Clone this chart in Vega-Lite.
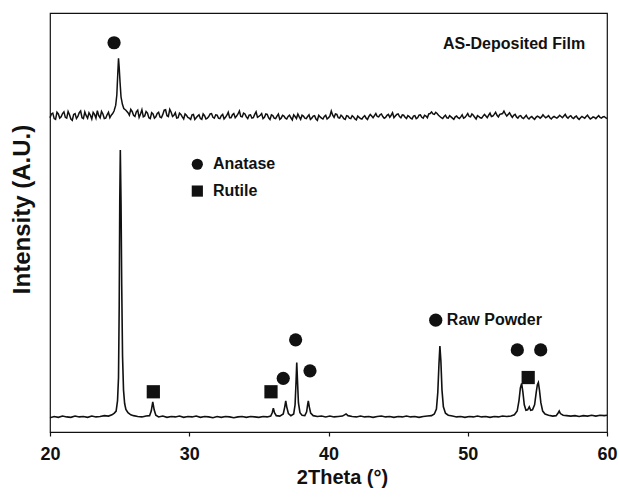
{
  "$schema": "https://vega.github.io/schema/vega-lite/v6.json",
  "width": 557,
  "height": 419,
  "autosize": {"type": "none"},
  "padding": {"left": 50, "top": 13, "right": 12, "bottom": 67},
  "background": "white",
  "config": {
    "font": "Liberation Sans",
    "view": {"stroke": "#111", "strokeWidth": 1.2},
    "axis": {"grid": false}
  },
  "datasets": {
    "film": [
      {"t":20.0,"i":75.0},{"t":20.2,"i":76.1},{"t":20.4,"i":74.6},{"t":20.6,"i":75.9},{"t":20.8,"i":75.2},
      {"t":21.0,"i":76.4},{"t":21.2,"i":74.9},{"t":21.4,"i":75.7},{"t":21.6,"i":74.4},{"t":21.8,"i":76.0},
      {"t":22.0,"i":75.3},{"t":22.2,"i":76.6},{"t":22.4,"i":74.8},{"t":22.6,"i":75.5},{"t":22.8,"i":76.2},
      {"t":23.0,"i":74.7},{"t":23.2,"i":75.8},{"t":23.4,"i":76.7},{"t":23.6,"i":75.0},{"t":23.8,"i":75.9},
      {"t":24.0,"i":74.9},{"t":24.2,"i":76.3},{"t":24.4,"i":75.6},{"t":24.6,"i":76.6},{"t":24.72,"i":78.0},
      {"t":24.8,"i":80.5},{"t":24.86,"i":85.0},{"t":24.92,"i":89.2},{"t":24.97,"i":87.0},{"t":25.03,"i":83.5},
      {"t":25.1,"i":80.0},{"t":25.2,"i":78.2},{"t":25.3,"i":77.2},{"t":25.45,"i":76.8},{"t":25.6,"i":76.2},
      {"t":25.8,"i":77.0},{"t":26.0,"i":75.6},{"t":26.2,"i":76.4},{"t":26.4,"i":75.1},{"t":26.6,"i":76.9},
      {"t":26.8,"i":75.4},{"t":27.0,"i":76.1},{"t":27.2,"i":74.8},{"t":27.4,"i":75.9},{"t":27.6,"i":75.2},
      {"t":27.8,"i":76.3},{"t":28.0,"i":75.0},{"t":28.2,"i":76.8},{"t":28.4,"i":75.5},{"t":28.6,"i":77.0},
      {"t":28.8,"i":75.3},{"t":29.0,"i":76.2},{"t":29.2,"i":75.0},{"t":29.4,"i":75.8},{"t":29.6,"i":74.7},
      {"t":29.8,"i":75.6},{"t":30.0,"i":74.9},{"t":30.2,"i":75.7},{"t":30.4,"i":74.6},{"t":30.6,"i":75.4},
      {"t":30.8,"i":74.8},{"t":31.0,"i":75.9},{"t":31.2,"i":74.7},{"t":31.4,"i":75.3},{"t":31.6,"i":76.0},
      {"t":31.8,"i":74.9},{"t":32.0,"i":75.6},{"t":32.2,"i":74.8},{"t":32.4,"i":75.8},{"t":32.6,"i":75.1},
      {"t":32.8,"i":76.3},{"t":33.0,"i":75.0},{"t":33.2,"i":76.0},{"t":33.4,"i":75.4},{"t":33.6,"i":76.6},
      {"t":33.8,"i":75.2},{"t":34.0,"i":75.9},{"t":34.2,"i":74.8},{"t":34.4,"i":75.7},{"t":34.6,"i":75.0},
      {"t":34.8,"i":76.4},{"t":35.0,"i":75.3},{"t":35.2,"i":76.0},{"t":35.4,"i":75.1},{"t":35.6,"i":75.8},
      {"t":35.8,"i":74.6},{"t":36.0,"i":75.5},{"t":36.2,"i":74.8},{"t":36.4,"i":75.9},{"t":36.6,"i":74.9},
      {"t":36.8,"i":75.4},{"t":37.0,"i":74.7},{"t":37.2,"i":75.6},{"t":37.4,"i":74.5},{"t":37.6,"i":75.3},
      {"t":37.8,"i":75.9},{"t":38.0,"i":74.6},{"t":38.2,"i":75.4},{"t":38.4,"i":74.8},{"t":38.6,"i":75.7},
      {"t":38.8,"i":74.9},{"t":39.0,"i":75.5},{"t":39.2,"i":74.4},{"t":39.4,"i":75.2},{"t":39.6,"i":74.7},
      {"t":39.8,"i":75.6},{"t":40.0,"i":75.0},{"t":40.2,"i":76.6},{"t":40.4,"i":75.1},{"t":40.6,"i":75.8},
      {"t":40.8,"i":74.9},{"t":41.0,"i":75.3},{"t":41.2,"i":74.6},{"t":41.4,"i":75.4},{"t":41.6,"i":74.8},
      {"t":41.8,"i":75.2},{"t":42.0,"i":74.5},{"t":42.2,"i":75.1},{"t":42.4,"i":74.7},{"t":42.6,"i":75.5},
      {"t":42.8,"i":74.6},{"t":43.0,"i":75.8},{"t":43.2,"i":75.0},{"t":43.4,"i":76.0},{"t":43.6,"i":75.2},
      {"t":43.8,"i":75.9},{"t":44.0,"i":74.9},{"t":44.2,"i":75.6},{"t":44.4,"i":75.1},{"t":44.6,"i":76.2},
      {"t":44.8,"i":75.4},{"t":45.0,"i":75.9},{"t":45.2,"i":75.0},{"t":45.4,"i":75.6},{"t":45.6,"i":74.8},
      {"t":45.8,"i":75.3},{"t":46.0,"i":74.7},{"t":46.2,"i":75.5},{"t":46.4,"i":75.0},{"t":46.6,"i":75.7},
      {"t":46.8,"i":74.9},{"t":47.0,"i":75.4},{"t":47.2,"i":75.9},{"t":47.4,"i":76.4},{"t":47.6,"i":75.8},
      {"t":47.8,"i":76.0},{"t":48.0,"i":75.3},{"t":48.2,"i":74.8},{"t":48.4,"i":75.6},{"t":48.6,"i":74.9},
      {"t":48.8,"i":75.2},{"t":49.0,"i":74.6},{"t":49.2,"i":75.4},{"t":49.4,"i":74.8},{"t":49.6,"i":75.7},
      {"t":49.8,"i":75.1},{"t":50.0,"i":76.0},{"t":50.2,"i":75.2},{"t":50.4,"i":75.6},{"t":50.6,"i":74.7},
      {"t":50.8,"i":75.3},{"t":51.0,"i":74.9},{"t":51.2,"i":75.8},{"t":51.4,"i":75.0},{"t":51.6,"i":76.1},
      {"t":51.8,"i":75.4},{"t":52.0,"i":76.3},{"t":52.2,"i":75.2},{"t":52.4,"i":75.9},{"t":52.6,"i":76.6},
      {"t":52.8,"i":75.4},{"t":53.0,"i":76.2},{"t":53.2,"i":75.1},{"t":53.4,"i":75.8},{"t":53.6,"i":74.9},
      {"t":53.8,"i":75.5},{"t":54.0,"i":74.8},{"t":54.2,"i":75.6},{"t":54.4,"i":74.7},{"t":54.6,"i":75.3},
      {"t":54.8,"i":74.6},{"t":55.0,"i":75.4},{"t":55.2,"i":74.9},{"t":55.4,"i":75.7},{"t":55.6,"i":75.0},
      {"t":55.8,"i":75.5},{"t":56.0,"i":74.7},{"t":56.2,"i":75.3},{"t":56.4,"i":74.9},{"t":56.6,"i":75.6},
      {"t":56.8,"i":75.0},{"t":57.0,"i":75.8},{"t":57.2,"i":74.9},{"t":57.4,"i":75.5},{"t":57.6,"i":74.8},
      {"t":57.8,"i":75.4},{"t":58.0,"i":74.6},{"t":58.2,"i":75.3},{"t":58.4,"i":74.9},{"t":58.6,"i":75.6},
      {"t":58.8,"i":74.7},{"t":59.0,"i":75.2},{"t":59.2,"i":74.8},{"t":59.4,"i":75.5},{"t":59.6,"i":74.9},
      {"t":59.8,"i":75.3},{"t":60.0,"i":74.8},
      {"t":20.1,"i":75.9},{"t":20.3,"i":74.8},{"t":20.5,"i":76.3},{"t":20.7,"i":74.9},{"t":20.9,"i":76.0},
      {"t":21.1,"i":75.1},{"t":21.3,"i":76.5},{"t":21.5,"i":74.7},{"t":21.7,"i":75.8},{"t":21.9,"i":74.8},
      {"t":22.1,"i":76.2},{"t":22.3,"i":75.0},{"t":22.5,"i":76.4},{"t":22.7,"i":74.9},{"t":22.9,"i":75.6},
      {"t":23.1,"i":76.3},{"t":23.3,"i":74.9},{"t":23.5,"i":75.5},{"t":23.7,"i":76.5},{"t":23.9,"i":74.8},
      {"t":24.1,"i":75.7},{"t":24.3,"i":75.0},{"t":24.5,"i":76.0},
      {"t":25.7,"i":75.6},{"t":25.9,"i":76.5},{"t":26.1,"i":75.3},{"t":26.3,"i":76.8},{"t":26.5,"i":75.9},
      {"t":26.7,"i":75.2},{"t":26.9,"i":76.5},{"t":27.1,"i":75.0},{"t":27.3,"i":76.2},{"t":27.5,"i":74.9},
      {"t":27.7,"i":76.0},{"t":27.9,"i":75.2},{"t":28.1,"i":75.8},{"t":28.3,"i":76.9},{"t":28.5,"i":75.3},
      {"t":28.7,"i":76.3},{"t":28.9,"i":75.6},{"t":29.1,"i":74.9},{"t":29.3,"i":76.1},{"t":29.5,"i":75.2},
      {"t":29.7,"i":75.9},{"t":29.9,"i":75.1},{"t":30.1,"i":74.6},{"t":30.3,"i":75.8},{"t":30.5,"i":75.0},
      {"t":30.7,"i":75.7},{"t":30.9,"i":74.6},{"t":31.1,"i":75.5},{"t":31.3,"i":74.9},{"t":31.5,"i":75.9},
      {"t":31.7,"i":75.1},{"t":31.9,"i":75.7},{"t":32.1,"i":74.9},{"t":32.3,"i":75.5},{"t":32.5,"i":74.7},
      {"t":32.7,"i":75.6},{"t":32.9,"i":75.0},{"t":33.1,"i":75.7},{"t":33.3,"i":75.0},{"t":33.5,"i":75.9},
      {"t":33.7,"i":75.3},{"t":33.9,"i":76.1},{"t":34.1,"i":75.2},{"t":34.3,"i":75.6},{"t":34.5,"i":74.9},
      {"t":34.7,"i":75.8},{"t":34.9,"i":75.1},{"t":35.1,"i":75.6},{"t":35.3,"i":74.8},{"t":35.5,"i":75.9},
      {"t":35.7,"i":75.0},{"t":35.9,"i":75.7},{"t":36.1,"i":74.9},{"t":36.3,"i":75.4},{"t":36.5,"i":74.6},
      {"t":36.7,"i":75.6},{"t":36.9,"i":74.9},{"t":37.1,"i":75.3},{"t":37.3,"i":75.0},{"t":37.5,"i":75.7},
      {"t":37.7,"i":74.8},{"t":37.9,"i":75.2},{"t":38.1,"i":75.6},{"t":38.3,"i":74.9},{"t":38.5,"i":75.3},
      {"t":38.7,"i":74.6},{"t":38.9,"i":75.4},{"t":39.1,"i":74.7},{"t":39.3,"i":75.6},{"t":39.5,"i":74.9},
      {"t":39.7,"i":75.3},{"t":39.9,"i":74.7},{"t":40.1,"i":75.4},{"t":40.3,"i":75.6},{"t":40.5,"i":75.9},
      {"t":40.7,"i":75.0},{"t":40.9,"i":75.6},{"t":41.1,"i":74.8},{"t":41.3,"i":75.5},{"t":41.5,"i":74.9},
      {"t":41.7,"i":75.5},{"t":41.9,"i":74.7},{"t":42.1,"i":75.4},{"t":42.3,"i":74.8},{"t":42.5,"i":75.2},
      {"t":42.7,"i":74.9},{"t":42.9,"i":75.3},{"t":43.1,"i":75.4},{"t":43.3,"i":75.5},{"t":43.5,"i":75.3},
      {"t":43.7,"i":75.7},{"t":43.9,"i":75.3},{"t":44.1,"i":75.1},{"t":44.3,"i":75.8},{"t":44.5,"i":75.6},
      {"t":44.7,"i":75.0},{"t":44.9,"i":75.8},{"t":45.1,"i":75.3},{"t":45.3,"i":75.7},{"t":45.5,"i":75.1},
      {"t":45.7,"i":75.5},{"t":45.9,"i":74.9},{"t":46.1,"i":75.4},{"t":46.3,"i":74.8},{"t":46.5,"i":75.6},
      {"t":46.7,"i":75.1},{"t":46.9,"i":75.6},{"t":47.1,"i":75.0},{"t":47.3,"i":76.0},{"t":47.5,"i":75.9},
      {"t":47.7,"i":76.3},{"t":47.9,"i":75.6},{"t":48.1,"i":75.0},{"t":48.3,"i":75.3},{"t":48.5,"i":75.0},
      {"t":48.7,"i":75.5},{"t":48.9,"i":74.9},{"t":49.1,"i":75.2},{"t":49.3,"i":75.0},{"t":49.5,"i":75.2},
      {"t":49.7,"i":74.9},{"t":49.9,"i":75.5},{"t":50.1,"i":75.3},{"t":50.3,"i":75.9},{"t":50.5,"i":75.1},
      {"t":50.7,"i":75.5},{"t":50.9,"i":75.0},{"t":51.1,"i":75.4},{"t":51.3,"i":75.4},{"t":51.5,"i":75.6},
      {"t":51.7,"i":75.3},{"t":51.9,"i":75.8},{"t":52.1,"i":75.6},{"t":52.3,"i":75.8},{"t":52.5,"i":76.0},
      {"t":52.7,"i":75.9},{"t":52.9,"i":75.8},{"t":53.1,"i":75.6},{"t":53.3,"i":75.6},{"t":53.5,"i":75.2},
      {"t":53.7,"i":75.4},{"t":53.9,"i":75.0},{"t":54.1,"i":75.2},{"t":54.3,"i":75.0},{"t":54.5,"i":75.1},
      {"t":54.7,"i":74.9},{"t":54.9,"i":75.1},{"t":55.1,"i":75.2},{"t":55.3,"i":75.2},{"t":55.5,"i":75.3},
      {"t":55.7,"i":75.2},{"t":55.9,"i":75.0},{"t":56.1,"i":75.1},{"t":56.3,"i":75.1},{"t":56.5,"i":75.2},
      {"t":56.7,"i":75.3},{"t":56.9,"i":75.4},{"t":57.1,"i":75.2},{"t":57.3,"i":75.3},{"t":57.5,"i":75.0},
      {"t":57.7,"i":75.2},{"t":57.9,"i":74.9},{"t":58.1,"i":75.0},{"t":58.3,"i":75.1},{"t":58.5,"i":75.3},
      {"t":58.7,"i":75.1},{"t":58.9,"i":74.9},{"t":59.1,"i":75.1},{"t":59.3,"i":75.2},{"t":59.5,"i":75.1},
      {"t":59.7,"i":75.2},{"t":59.9,"i":75.0}
    ],
    "powder": [
      {"t":20.0,"i":3.4},{"t":20.3,"i":3.7},{"t":20.6,"i":3.5},{"t":20.9,"i":3.8},{"t":21.2,"i":3.6},
      {"t":21.5,"i":3.5},{"t":21.8,"i":3.8},{"t":22.1,"i":3.6},{"t":22.4,"i":3.7},{"t":22.7,"i":3.5},
      {"t":23.0,"i":3.8},{"t":23.3,"i":3.6},{"t":23.6,"i":3.7},{"t":23.9,"i":3.9},{"t":24.2,"i":3.8},
      {"t":24.45,"i":4.1},{"t":24.62,"i":4.5},{"t":24.75,"i":5.0},{"t":24.85,"i":7.5},{"t":24.92,"i":13},
      {"t":24.97,"i":30},{"t":25.01,"i":55},{"t":25.05,"i":67.3},{"t":25.1,"i":55},{"t":25.15,"i":35},
      {"t":25.21,"i":18},{"t":25.28,"i":10},{"t":25.36,"i":6.8},{"t":25.45,"i":5.4},{"t":25.6,"i":4.6},
      {"t":25.8,"i":4.1},{"t":26.0,"i":3.9},
      {"t":26.3,"i":3.7},{"t":26.6,"i":3.6},{"t":26.9,"i":3.8},{"t":27.15,"i":3.9},{"t":27.27,"i":5.0},
      {"t":27.38,"i":7.2},{"t":27.48,"i":5.3},{"t":27.6,"i":4.0},{"t":27.8,"i":3.6},{"t":28.1,"i":3.8},
      {"t":28.4,"i":3.5},{"t":28.7,"i":3.7},{"t":29.0,"i":3.6},{"t":29.3,"i":3.8},{"t":29.6,"i":3.5},
      {"t":29.9,"i":3.7},{"t":30.2,"i":3.6},{"t":30.5,"i":3.8},{"t":30.8,"i":3.5},{"t":31.1,"i":3.7},
      {"t":31.4,"i":3.6},{"t":31.7,"i":3.4},{"t":32.0,"i":3.7},{"t":32.3,"i":3.5},{"t":32.6,"i":3.7},
      {"t":32.9,"i":3.6},{"t":33.2,"i":3.4},{"t":33.5,"i":3.6},{"t":33.8,"i":3.7},{"t":34.1,"i":3.5},
      {"t":34.4,"i":3.7},{"t":34.7,"i":3.6},{"t":35.0,"i":3.5},{"t":35.3,"i":3.7},{"t":35.6,"i":3.6},
      {"t":35.85,"i":3.8},{"t":35.96,"i":4.6},{"t":36.04,"i":5.7},{"t":36.12,"i":4.6},{"t":36.25,"i":3.9},
      {"t":36.5,"i":3.8},{"t":36.75,"i":4.3},{"t":36.86,"i":6.0},{"t":36.93,"i":7.4},{"t":37.0,"i":6.0},
      {"t":37.12,"i":4.4},{"t":37.3,"i":3.9},{"t":37.5,"i":4.3},{"t":37.6,"i":6.5},{"t":37.67,"i":12},
      {"t":37.72,"i":16.6},{"t":37.77,"i":12.5},{"t":37.84,"i":7.0},{"t":37.95,"i":4.6},{"t":38.1,"i":4.0},
      {"t":38.3,"i":3.9},{"t":38.43,"i":4.8},{"t":38.5,"i":6.5},{"t":38.55,"i":7.4},{"t":38.62,"i":6.0},
      {"t":38.72,"i":4.5},{"t":38.9,"i":3.9},{"t":39.2,"i":3.7},{"t":39.5,"i":3.8},{"t":39.8,"i":3.6},
      {"t":40.1,"i":3.8},{"t":40.4,"i":3.6},{"t":40.7,"i":3.7},{"t":41.0,"i":3.8},{"t":41.15,"i":4.1},
      {"t":41.26,"i":4.3},{"t":41.4,"i":3.9},{"t":41.7,"i":3.7},{"t":42.0,"i":3.6},{"t":42.3,"i":3.8},
      {"t":42.6,"i":3.6},{"t":42.9,"i":3.7},{"t":43.2,"i":3.5},{"t":43.5,"i":3.7},{"t":43.8,"i":3.8},
      {"t":44.1,"i":3.6},{"t":44.4,"i":3.7},{"t":44.7,"i":3.5},{"t":45.0,"i":3.7},{"t":45.3,"i":3.6},
      {"t":45.6,"i":3.8},{"t":45.9,"i":3.6},{"t":46.2,"i":3.7},{"t":46.5,"i":3.5},{"t":46.8,"i":3.7},
      {"t":47.1,"i":3.8},{"t":47.4,"i":3.9},{"t":47.6,"i":4.3},{"t":47.75,"i":5.5},{"t":47.85,"i":9.5},
      {"t":47.93,"i":16},{"t":48.0,"i":20.5},{"t":48.07,"i":17},{"t":48.15,"i":10},{"t":48.25,"i":6.0},
      {"t":48.4,"i":4.5},{"t":48.6,"i":4.0},{"t":48.9,"i":3.8},{"t":49.2,"i":3.6},{"t":49.5,"i":3.7},
      {"t":49.8,"i":3.5},{"t":50.1,"i":3.7},{"t":50.4,"i":3.6},{"t":50.7,"i":3.8},{"t":51.0,"i":3.6},
      {"t":51.3,"i":3.7},{"t":51.6,"i":3.5},{"t":51.9,"i":3.7},{"t":52.2,"i":3.6},{"t":52.5,"i":3.8},
      {"t":52.8,"i":3.7},{"t":53.1,"i":3.8},{"t":53.35,"i":4.1},{"t":53.55,"i":5.0},{"t":53.68,"i":7.5},
      {"t":53.78,"i":10.5},{"t":53.87,"i":11.6},{"t":53.96,"i":9.5},{"t":54.06,"i":6.5},{"t":54.18,"i":5.2},
      {"t":54.3,"i":5.3},{"t":54.42,"i":6.0},{"t":54.52,"i":5.2},{"t":54.65,"i":5.3},{"t":54.8,"i":6.5},
      {"t":54.92,"i":9.5},{"t":55.0,"i":11.3},{"t":55.07,"i":11.8},{"t":55.15,"i":10},{"t":55.25,"i":7.0},
      {"t":55.38,"i":5.0},{"t":55.55,"i":4.3},{"t":55.8,"i":4.0},{"t":56.1,"i":3.8},{"t":56.35,"i":3.9},
      {"t":56.5,"i":4.6},{"t":56.57,"i":5.0},{"t":56.65,"i":4.4},{"t":56.85,"i":4.0},{"t":57.1,"i":3.9},
      {"t":57.4,"i":3.8},{"t":57.7,"i":3.9},{"t":58.0,"i":3.7},{"t":58.3,"i":3.9},{"t":58.6,"i":3.8},
      {"t":58.9,"i":4.0},{"t":59.2,"i":3.8},{"t":59.5,"i":4.0},{"t":59.8,"i":3.9},{"t":60.0,"i":4.0}
    ],
    "markers": [
      {"t":24.6,"i":92.9,"phase":"Anatase","role":"peak"},
      {"t":27.42,"i":9.6,"phase":"Rutile","role":"peak"},
      {"t":35.87,"i":9.6,"phase":"Rutile","role":"peak"},
      {"t":36.75,"i":12.8,"phase":"Anatase","role":"peak"},
      {"t":37.64,"i":22.0,"phase":"Anatase","role":"peak"},
      {"t":38.67,"i":14.6,"phase":"Anatase","role":"peak"},
      {"t":47.70,"i":26.7,"phase":"Anatase","role":"peak"},
      {"t":53.56,"i":19.6,"phase":"Anatase","role":"peak"},
      {"t":55.24,"i":19.6,"phase":"Anatase","role":"peak"},
      {"t":54.34,"i":13.0,"phase":"Rutile","role":"peak"},
      {"t":30.58,"i":63.9,"phase":"Anatase","role":"legend"},
      {"t":30.58,"i":57.5,"phase":"Rutile","role":"legend"}
    ],
    "labels": [
      {"t":48.22,"i":92.5,"label":"AS-Deposited Film"},
      {"t":31.7,"i":63.9,"label":"Anatase"},
      {"t":31.7,"i":57.5,"label":"Rutile"},
      {"t":48.5,"i":26.7,"label":"Raw Powder"}
    ]
  },
  "encoding": {
    "x": {
      "field": "t", "type": "quantitative",
      "scale": {"domain": [20, 60], "nice": false, "zero": false},
      "axis": {
        "values": [20, 30, 40, 50, 60],
        "title": "2Theta (°)",
        "domain": false,
        "labelFlush": false,
        "labelOverlap": false,
        "labelFontSize": 18,
        "labelFontWeight": "bold",
        "labelColor": "#111",
        "labelPadding": 9,
        "tickColor": "#111",
        "tickSize": 4,
        "tickWidth": 1.2,
        "titleFontSize": 20,
        "titleFontWeight": "bold",
        "titleColor": "#111",
        "titleX": 292,
        "titleY": 51,
        "titleBaseline": "alphabetic",
        "titleAlign": "center"
      }
    },
    "y": {
      "field": "i", "type": "quantitative",
      "scale": {"domain": [0, 100], "nice": false, "zero": false},
      "axis": {
        "title": "Intensity (A.U.)",
        "labels": false,
        "ticks": false,
        "domain": false,
        "titleFontSize": 24,
        "titleFontWeight": "bold",
        "titleColor": "#111",
        "titleX": -28,
        "titleY": 196,
        "titleAngle": 270,
        "titleBaseline": "middle",
        "titleAlign": "center"
      }
    }
  },
  "layer": [
    {
      "data": {"name": "film"},
      "mark": {"type": "line", "color": "#111", "strokeWidth": 1.5},
      "encoding": {}
    },
    {
      "data": {"name": "powder"},
      "mark": {"type": "line", "color": "#111", "strokeWidth": 1.6},
      "encoding": {}
    },
    {
      "data": {"name": "markers"},
      "mark": {"type": "point", "filled": true, "color": "#111", "opacity": 1},
      "encoding": {
        "shape": {"field": "phase", "type": "nominal", "scale": {"domain": ["Anatase", "Rutile"], "range": ["circle", "square"]}, "legend": null},
        "size": {"field": "role", "type": "nominal", "scale": {"domain": ["peak", "legend"], "range": [175, 125]}, "legend": null}
      }
    },
    {
      "data": {"name": "labels"},
      "mark": {"type": "text", "align": "left", "baseline": "middle", "font": "Liberation Sans", "fontWeight": "bold", "fontSize": 16, "color": "#111"},
      "encoding": {
        "text": {"field": "label", "type": "nominal"}
      }
    }
  ]
}
